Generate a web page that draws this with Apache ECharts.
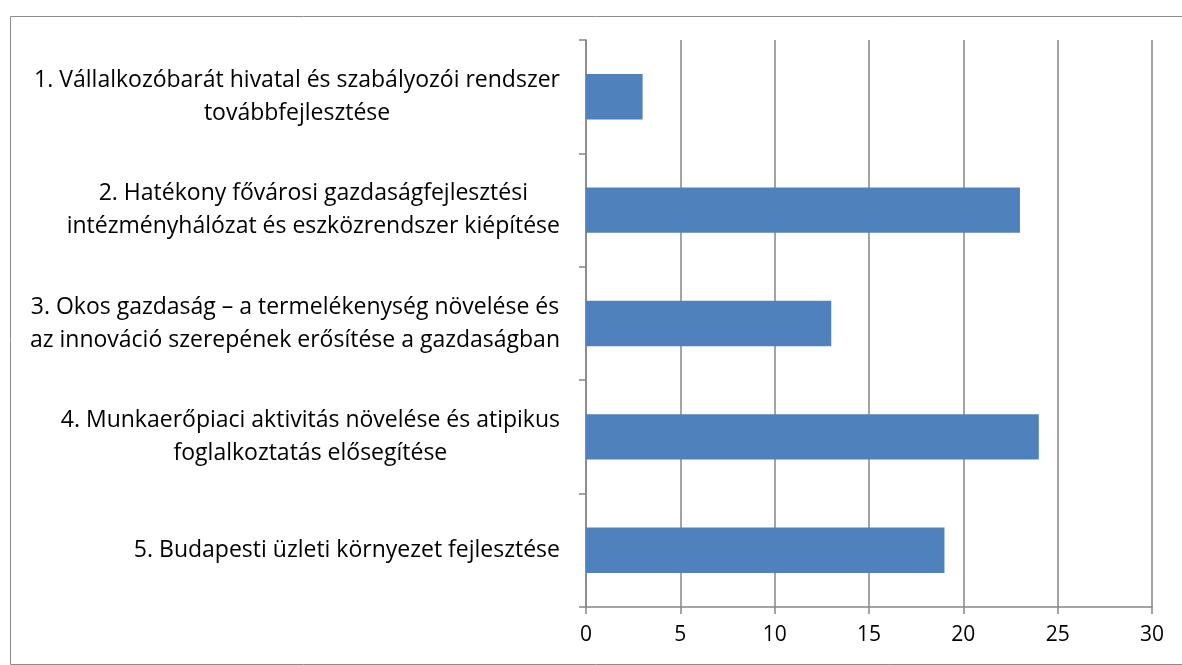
<!DOCTYPE html>
<html>
<head>
<meta charset="utf-8">
<script src="https://cdn.jsdelivr.net/npm/echarts@6/dist/echarts.min.js"></script>
<style>
html,body{margin:0;padding:0;background:#fff;}
#chart{width:1182px;height:665px;}
</style>
</head>
<body>
<div id="chart"></div>
<script>
const categories = [
  ["1. Vállalkozóbarát hivatal és szabályozói rendszer", "továbbfejlesztése"],
  ["2. Hatékony fővárosi gazdaságfejlesztési", "intézményhálózat és eszközrendszer kiépítése"],
  ["3. Okos gazdaság – a termelékenység növelése és", "az innováció szerepének erősítése a gazdaságban"],
  ["4. Munkaerőpiaci aktivitás növelése és atipikus", "foglalkoztatás elősegítése"],
  ["5. Budapesti üzleti környezet fejlesztése"]
];
const values = [3, 23, 13, 24, 19];
const xTicks = { min: 0, max: 30, interval: 5 };

const catNames = categories.map(c => c.join("\n"));
const chart = echarts.init(document.getElementById('chart'), null, { renderer: 'canvas' });
const grey = '#868686';
const font = '"Open Sans", Lato, sans-serif';
chart.setOption({
  animation: false,
  backgroundColor: '#fff',
  graphic: [{
    type: 'rect', left: 8, top: 14, silent: true,
    shape: { width: 1200, height: 648 },
    style: { fill: 'none', stroke: '#8c8c8c', lineWidth: 1 }
  }],
  grid: { left: 586, right: 30, top: 40, bottom: 58, containLabel: false },
  xAxis: {
    type: 'value', min: xTicks.min, max: xTicks.max, interval: xTicks.interval,
    axisLine: { show: true, lineStyle: { color: grey, width: 1.5 } },
    axisTick: { show: true, length: 7, lineStyle: { color: grey, width: 1.5 } },
    splitLine: { show: true, lineStyle: { color: grey, width: 1.5 } },
    axisLabel: { color: '#000', fontSize: 21, fontFamily: font, margin: 18 }
  },
  yAxis: {
    type: 'category', inverse: true, data: catNames,
    axisLine: { show: true, lineStyle: { color: grey, width: 1.5 } },
    axisTick: { show: true, length: 7, lineStyle: { color: grey, width: 1.5 } },
    axisLabel: {
      margin: 26, align: 'right', color: '#000',
      fontSize: 23, fontFamily: font, lineHeight: 33,
      formatter: function (v) {
        return v.split('\n').map(s => '{c|' + s + '}').join('\n');
      },
      rich: { c: { align: 'center', fontSize: 23, fontFamily: font, lineHeight: 33, color: '#000' } }
    }
  },
  series: [{
    type: 'bar', data: values, barWidth: '40%',
    itemStyle: { color: '#4F81BD' }
  }]
});
</script>
</body>
</html>
